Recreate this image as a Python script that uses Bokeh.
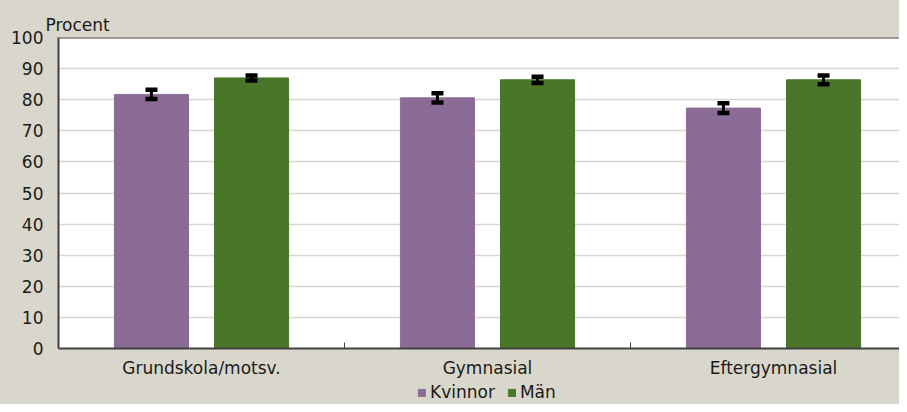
import numpy as np
from bokeh.plotting import figure
from bokeh.layouts import column
from bokeh.models import (ColumnDataSource, Range1d, FixedTicker, Whisker, TeeHead,
                          Span, Legend, LegendItem, Title)
from bokeh.embed import file_html
from bokeh.resources import INLINE

categories = ["Grundskola/motsv.", "Gymnasial", "Eftergymnasial"]
series_names = ["Kvinnor", "Män"]
kvinnor = [81.7, 80.6, 77.3]
kvinnor_err = [1.5, 1.5, 1.55]
man = [87.0, 86.4, 86.4]
man_err = [0.8, 1.0, 1.4]
y_ticks = [0, 10, 20, 30, 40, 50, 60, 70, 80, 90, 100]

FONT = "DejaVu Sans"
FS = "17px"
BG = "#D9D7CB"
PURPLE = "#8B6C96"
GREEN = "#4A7629"
AXIS = "#404040"
TXT = "#1a1a1a"

centers = np.arange(len(categories)) + 0.5
offset = 0.175
bar_w = 0.259

p = figure(width=899, height=381, output_backend="svg", toolbar_location=None,
           x_range=Range1d(0, 841 / 286), y_range=Range1d(0, 100),
           min_border_left=58, min_border_right=0, min_border_top=37, min_border_bottom=33,
           styles={"background-color": BG})
p.background_fill_color = "white"
p.border_fill_color = BG
p.outline_line_color = None

src_k = ColumnDataSource(dict(x=centers - offset, y=kvinnor,
                              lo=np.array(kvinnor) - np.array(kvinnor_err),
                              hi=np.array(kvinnor) + np.array(kvinnor_err)))
src_m = ColumnDataSource(dict(x=centers + offset, y=man,
                              lo=np.array(man) - np.array(man_err),
                              hi=np.array(man) + np.array(man_err)))

p.vbar(x="x", top="y", width=bar_w, source=src_k, fill_color=PURPLE, line_color=PURPLE)
p.vbar(x="x", top="y", width=bar_w, source=src_m, fill_color=GREEN, line_color=GREEN)

for src in (src_k, src_m):
    w = Whisker(source=src, base="x", upper="hi", lower="lo", line_color="black", line_width=3,
                level="overlay",
                upper_head=TeeHead(size=12, line_width=4.5, line_color="black"),
                lower_head=TeeHead(size=12, line_width=4.5, line_color="black"))
    p.add_layout(w)

p.add_layout(Span(location=100, dimension="width", line_color=AXIS, line_width=2))

# grid
p.xgrid.grid_line_color = None
p.ygrid.ticker = FixedTicker(ticks=y_ticks)
p.ygrid.grid_line_color = "#DAD8CE"
p.ygrid.grid_line_width = 1.5

# y axis
p.yaxis.ticker = FixedTicker(ticks=y_ticks)
p.yaxis.axis_line_color = AXIS
p.yaxis.axis_line_width = 2
p.yaxis.major_tick_line_color = None
p.yaxis.minor_tick_line_color = None
p.yaxis.major_tick_out = 0
p.yaxis.major_tick_in = 0
p.yaxis.major_label_standoff = 15
p.yaxis.major_label_text_font = FONT
p.yaxis.major_label_text_font_size = FS
p.yaxis.major_label_text_color = TXT

# x axis
p.xaxis.ticker = FixedTicker(ticks=list(centers), minor_ticks=[1, 2])
p.xaxis.major_label_overrides = {float(c): n for c, n in zip(centers, categories)}
p.xaxis.axis_line_color = AXIS
p.xaxis.axis_line_width = 2
p.xaxis.major_tick_line_color = None
p.xaxis.major_tick_in = 0
p.xaxis.major_tick_out = 0
p.xaxis.minor_tick_line_color = AXIS
p.xaxis.minor_tick_line_width = 1
p.xaxis.minor_tick_in = 6
p.xaxis.minor_tick_out = 0
p.xaxis.major_label_standoff = 9
p.xaxis.major_label_text_font = FONT
p.xaxis.major_label_text_font_size = FS
p.xaxis.major_label_text_color = TXT

# title
p.title = Title(text="Procent", align="left", offset=-13, standoff=6,
                text_font=FONT, text_font_size=FS, text_font_style="normal",
                text_color=TXT)

# legend strip below the chart
lg = figure(width=899, height=23, output_backend="svg", toolbar_location=None,
            x_axis_type=None, y_axis_type=None,
            x_range=Range1d(0, 1), y_range=Range1d(1000, 1001),
            min_border=0, min_border_left=58, min_border_right=0,
            min_border_top=0, min_border_bottom=0,
            styles={"background-color": BG})
lg.background_fill_color = BG
lg.background_fill_alpha = 1.0
lg.border_fill_color = BG
lg.border_fill_alpha = 1.0
lg.outline_line_color = None
lg.xgrid.visible = False
lg.ygrid.visible = False
sw_k = lg.vbar(x="x", top="y", width=bar_w, source=src_k, fill_color=PURPLE, line_color=PURPLE)
sw_m = lg.vbar(x="x", top="y", width=bar_w, source=src_m, fill_color=GREEN, line_color=GREEN)
legend = Legend(items=[LegendItem(label=series_names[0], renderers=[sw_k]),
                       LegendItem(label=series_names[1], renderers=[sw_m])],
                orientation="horizontal", location=(359, 2),
                glyph_width=9, glyph_height=9, label_height=18, label_standoff=4,
                spacing=12, padding=0, margin=0,
                border_line_color=None, background_fill_alpha=0,
                label_text_font=FONT, label_text_font_size=FS,
                label_text_color=TXT)
lg.add_layout(legend, "center")

layout = column(p, lg, spacing=0, styles={"background-color": BG})
open("out.html", "w").write(file_html(layout, INLINE))
